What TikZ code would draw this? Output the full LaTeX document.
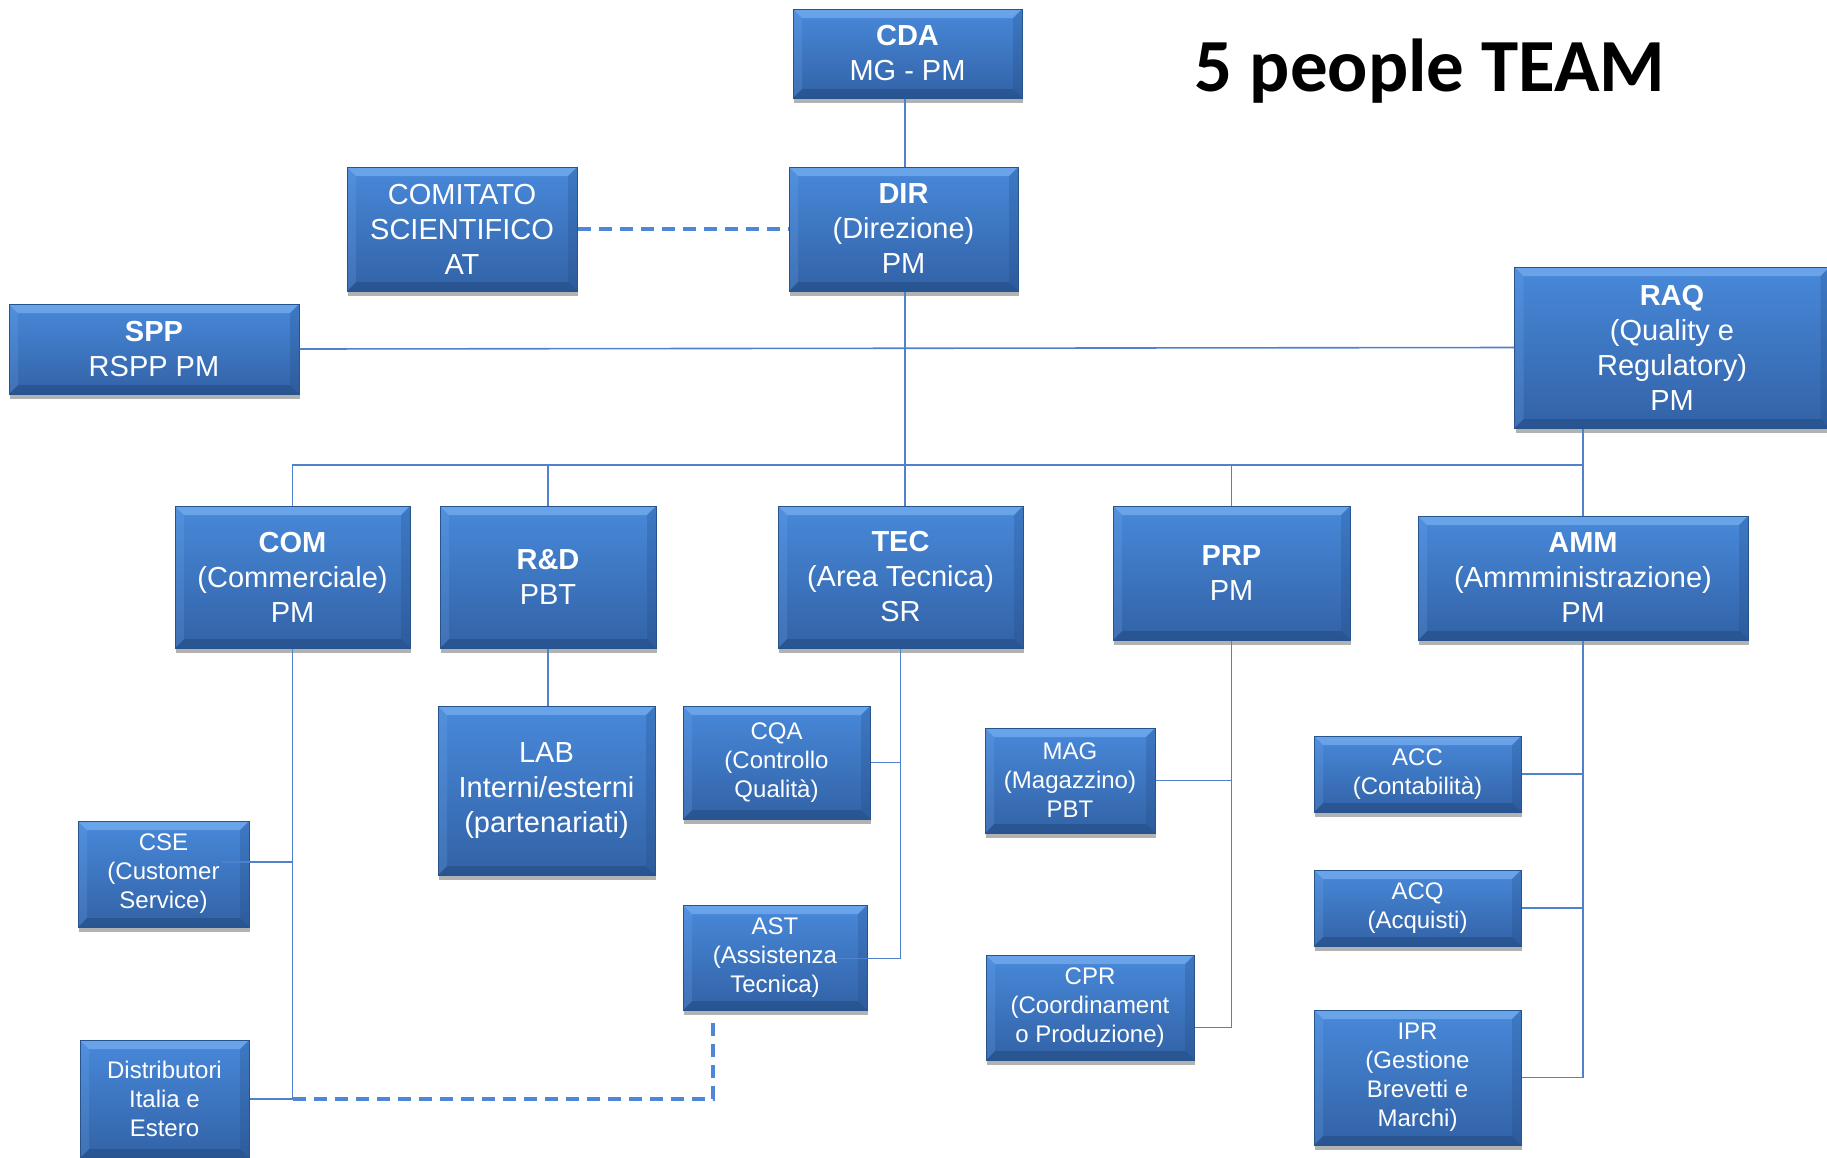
\documentclass[tikz,border=0pt]{standalone}
\usepackage{fontspec}
\setmainfont{Liberation Sans}
\newfontfamily\titlefont{Carlito}
\usetikzlibrary{shadows}
\definecolor{boxtop}{RGB}{72,137,218}
\definecolor{boxbot}{RGB}{50,98,166}
\definecolor{boxedge}{RGB}{40,84,142}
\definecolor{bevlight}{RGB}{120,175,240}
\definecolor{bevdark}{RGB}{34,74,130}
\definecolor{linkcol}{RGB}{79,129,205}
\definecolor{dashcol}{RGB}{79,134,216}
\tikzset{
  orgbox/.style={draw=boxedge, line width=1pt, top color=boxtop, bottom color=boxbot,
    text=white, align=center, inner sep=0pt, font=\fontsize{29}{35}\selectfont,
    drop shadow={shadow xshift=1pt, shadow yshift=-5pt, opacity=0.3, fill=black},
    path picture={
      \fill[bevlight,opacity=0.7] (path picture bounding box.north west) -- (path picture bounding box.north east)
        -- ([xshift=-9pt,yshift=-9pt]path picture bounding box.north east) -- ([xshift=9pt,yshift=-9pt]path picture bounding box.north west) -- cycle;
      \fill[bevdark,opacity=0.55] (path picture bounding box.south west) -- (path picture bounding box.south east)
        -- ([xshift=-9pt,yshift=9pt]path picture bounding box.south east) -- ([xshift=9pt,yshift=9pt]path picture bounding box.south west) -- cycle;
      \fill[bevdark,opacity=0.25] (path picture bounding box.south east) -- (path picture bounding box.north east)
        -- ([xshift=-9pt,yshift=-9pt]path picture bounding box.north east) -- ([xshift=-9pt,yshift=9pt]path picture bounding box.south east) -- cycle;
      \fill[bevlight,opacity=0.2] (path picture bounding box.south west) -- (path picture bounding box.north west)
        -- ([xshift=9pt,yshift=-9pt]path picture bounding box.north west) -- ([xshift=9pt,yshift=9pt]path picture bounding box.south west) -- cycle;
    }},
  smallbox/.style={orgbox, font=\fontsize{24}{29}\selectfont},
  link/.style={draw=linkcol, line width=1.6pt},
  dlink/.style={draw=dashcol, line width=4pt, dash pattern=on 13pt off 8pt},
}
\begin{document}
\begin{tikzpicture}[x=1pt,y=-1pt]
\useasboundingbox (0,0) rectangle (1827,1157);
% title
\node (title) at (1430,71) {\titlefont\bfseries\fontsize{75}{80}\selectfont 5 people TEAM};
% boxes
\node[orgbox, minimum width=229pt, minimum height=89pt] (cda) at (907.5,53.5) {\textbf{CDA}\\MG - PM};
\node[orgbox, minimum width=229pt, minimum height=124pt] (dir) at (903.5,229) {\textbf{DIR}\\(Direzione)\\PM};
\node[orgbox, minimum width=230pt, minimum height=124pt] (csci) at (462,229) {COMITATO\\SCIENTIFICO\\AT};
\node[orgbox, minimum width=290pt, minimum height=90pt] (spp) at (154,349) {\textbf{SPP}\\RSPP PM};
\node[orgbox, minimum width=315pt, minimum height=161pt] (raq) at (1672,347.5) {\textbf{RAQ}\\(Quality e\\Regulatory)\\PM};
\node[orgbox, minimum width=235pt, minimum height=142pt] (comm) at (292.5,577) {\textbf{COM}\\(Commerciale)\\PM};
\node[orgbox, minimum width=216pt, minimum height=142pt] (rd) at (548,577) {\textbf{R\&D}\\PBT};
\node[orgbox, minimum width=245pt, minimum height=142pt] (tec) at (900.5,577) {\textbf{TEC}\\(Area Tecnica)\\SR};
\node[orgbox, minimum width=237pt, minimum height=134pt] (prp) at (1231.5,573) {\textbf{PRP}\\PM};
\node[orgbox, minimum width=330pt, minimum height=124pt] (amm) at (1583,578) {\textbf{AMM}\\(Ammministrazione)\\PM};
\node[orgbox, minimum width=217pt, minimum height=169pt] (lab) at (546.5,790.5) {LAB\\Interni/esterni\\(partenariati)};
\node[smallbox, minimum width=187pt, minimum height=113pt] (cqa) at (776.5,762.5) {CQA\\(Controllo\\Qualità)};
\node[smallbox, minimum width=170pt, minimum height=105pt] (mag) at (1070,780.5) {MAG\\(Magazzino)\\PBT};
\node[smallbox, minimum width=207pt, minimum height=76pt] (acc) at (1417.5,774) {ACC\\(Contabilità)};
\node[smallbox, minimum width=171pt, minimum height=106pt] (cse) at (163.5,874) {CSE\\(Customer\\Service)};
\node[smallbox, minimum width=207pt, minimum height=76pt] (acq) at (1417.5,908) {ACQ\\(Acquisti)};
\node[smallbox, minimum width=184pt, minimum height=105pt] (ast) at (775,957.5) {AST\\(Assistenza\\Tecnica)};
\node[smallbox, minimum width=208pt, minimum height=105pt] (cpr) at (1090,1007.5) {CPR\\(Coordinament\\o Produzione)};
\node[smallbox, minimum width=207pt, minimum height=135pt] (ipr) at (1417.5,1077.5) {IPR\\(Gestione\\Brevetti e\\Marchi)};
\node[smallbox, minimum width=169pt, minimum height=118pt] (dis) at (164.5,1099) {Distributori\\Italia e\\Estero};
% helper coordinates
\coordinate (bus) at (905,465);
\coordinate (csej) at ([xshift=-28pt,yshift=12pt]cse.east);
\coordinate (astj) at ([xshift=-33pt,yshift=-1pt]ast.east);
\coordinate (cprj) at ([yshift=-20pt]cpr.east);
\coordinate (astd) at ([xshift=30pt,yshift=-9pt]ast.south west);
% connectors
\draw[link] (cda.south -| bus) -- (dir.north -| bus);
\draw[link] (dir.south -| bus) -- (tec.north -| bus);
\draw[link] (spp.east) -- (raq.west);
\draw[link] (comm.north) -- (comm.north |- bus) -- (amm.north |- bus);
\draw[link] (rd.north) -- (rd.north |- bus);
\draw[link] (prp.north) -- (prp.north |- bus);
\draw[link] (amm.north) -- (amm.north |- raq.south);
\draw[link] (rd.south) -- (rd.south |- lab.north);
\draw[link] (comm.south) -- (comm.south |- dis.east) -- (dis.east);
\draw[link] (csej) -- (comm.south |- csej);
\draw[link] (tec.south) -- (tec.south |- astj) -- (astj);
\draw[link] (cqa.east) -- (tec.south |- cqa.east);
\draw[link] (prp.south) -- (prp.south |- cprj) -- (cprj);
\draw[link] (mag.east) -- (prp.south |- mag.east);
\draw[link] (amm.south) -- (amm.south |- ipr.east) -- (ipr.east);
\draw[link] (acc.east) -- (amm.south |- acc.east);
\draw[link] (acq.east) -- (amm.south |- acq.east);
\draw[dlink] (csci.east) -- (dir.west);
\draw[dlink] (comm.south |- dis.east) -| (astd);
\end{tikzpicture}
\end{document}
